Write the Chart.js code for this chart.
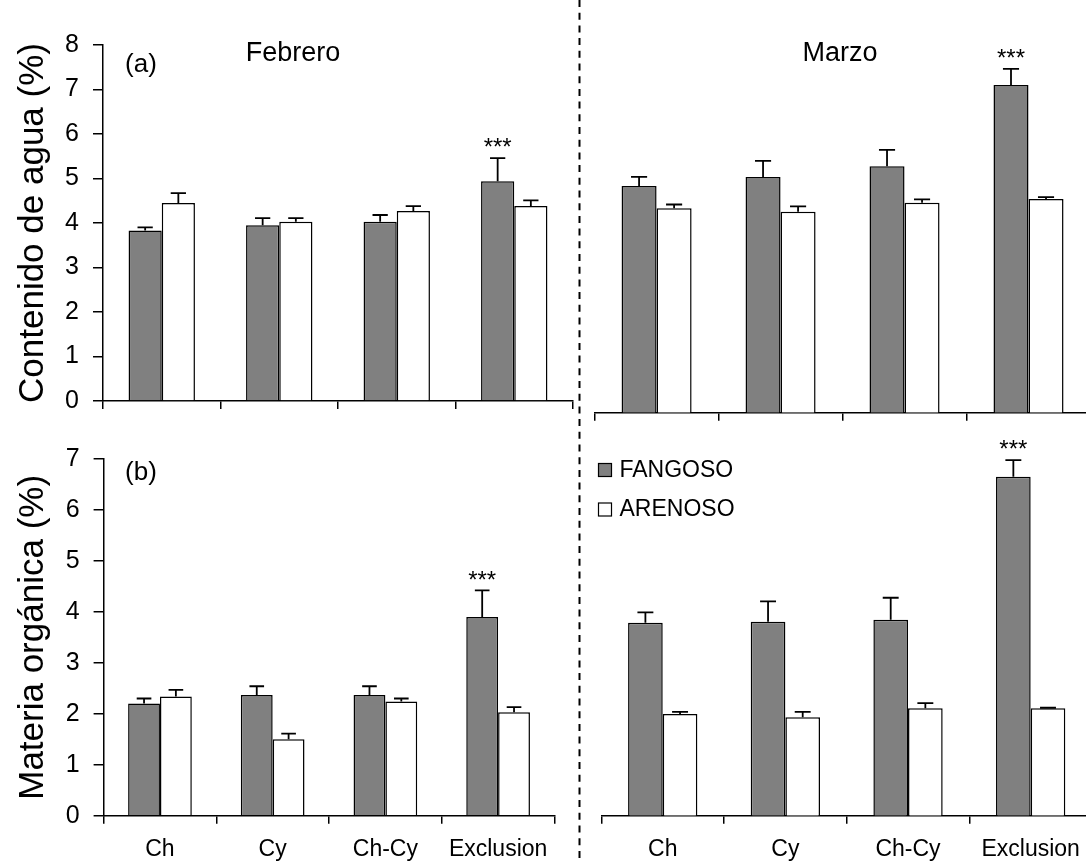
<!DOCTYPE html>
<html>
<head>
<meta charset="utf-8">
<script src="https://cdn.jsdelivr.net/npm/chart.js@4.4.0/dist/chart.umd.min.js"></script>
<style>
  html, body { margin: 0; padding: 0; background: #fff; overflow: hidden; }
  #wrap { position: relative; width: 1086px; height: 862px; overflow: hidden; background: #fff; }
  #wrap canvas { position: absolute; }
  #sep { position: absolute; left: 0; top: 0; pointer-events: none; }
</style>
</head>
<body>
<div id="wrap">
  <canvas id="aguaFeb"></canvas>
  <canvas id="aguaMar"></canvas>
  <canvas id="moFeb"></canvas>
  <canvas id="moMar"></canvas>
  <svg id="sep" width="1086" height="862">
    <line x1="579.5" y1="0" x2="579.5" y2="862" stroke="#000" stroke-width="2" stroke-dasharray="7 5.7"/>
  </svg>
</div>
<script>
// Treatments and sediment types
const categories = ['Ch', 'Cy', 'Ch-Cy', 'Exclusion'];
const seriesNames = ['FANGOSO', 'ARENOSO'];
const seriesColors = ['#808080', '#ffffff'];

// Water content (%) - February
const aguaFebFangoso   = [3.83, 3.95, 4.03, 4.94];
const aguaFebFangosoSE = [0.07, 0.16, 0.15, 0.52];
const aguaFebArenoso   = [4.45, 4.03, 4.27, 4.38];
const aguaFebArenosoSE = [0.22, 0.08, 0.11, 0.13];
const aguaFebSig       = ['', '', '', '***'];

// Water content (%) - March
const aguaMarFangoso   = [4.93, 5.13, 5.36, 7.13];
const aguaMarFangosoSE = [0.20, 0.35, 0.36, 0.35];
const aguaMarArenoso   = [4.45, 4.37, 4.57, 4.65];
const aguaMarArenosoSE = [0.08, 0.12, 0.07, 0.04];
const aguaMarSig       = ['', '', '', '***'];

// Organic matter (%) - February
const moFebFangoso   = [2.20, 2.37, 2.37, 3.90];
const moFebFangosoSE = [0.10, 0.17, 0.17, 0.52];
const moFebArenoso   = [2.34, 1.50, 2.24, 2.03];
const moFebArenosoSE = [0.13, 0.11, 0.06, 0.10];
const moFebSig       = ['', '', '', '***'];

// Organic matter (%) - March
const moMarFangoso   = [3.70, 3.72, 3.76, 6.50];
const moMarFangosoSE = [0.20, 0.39, 0.42, 0.32];
const moMarArenoso   = [1.95, 1.89, 2.06, 2.06];
const moMarArenosoSE = [0.04, 0.10, 0.10, 0.01];
const moMarSig       = ['', '', '', '***'];

// Y tick values
const aguaTicks = [0, 1, 2, 3, 4, 5, 6, 7, 8];
const moTicks   = [0, 1, 2, 3, 4, 5, 6, 7];

const FONT = "'Liberation Sans', Arial, Helvetica, sans-serif";
Chart.defaults.font.family = FONT;
Chart.defaults.color = '#000';

// Upward error bars with caps, plus significance stars above them
const errorBars = {
  id: 'errorBars',
  afterDatasetsDraw(chart) {
    const ctx = chart.ctx;
    const y = chart.scales.y;
    chart.data.datasets.forEach((ds, i) => {
      const meta = chart.getDatasetMeta(i);
      meta.data.forEach((bar, j) => {
        const top = y.getPixelForValue(ds.data[j] + ds.se[j]);
        const half = bar.width * 0.23;
        ctx.save();
        ctx.strokeStyle = '#000';
        ctx.lineWidth = 1.8;
        ctx.beginPath();
        ctx.moveTo(bar.x, bar.y);
        ctx.lineTo(bar.x, top);
        ctx.moveTo(bar.x - half, top);
        ctx.lineTo(bar.x + half, top);
        ctx.stroke();
        if (ds.sig && ds.sig[j]) {
          ctx.fillStyle = '#000';
          ctx.font = '24px ' + FONT;
          ctx.textAlign = 'center';
          ctx.textBaseline = 'middle';
          ctx.fillText(ds.sig[j], bar.x, top - 9.5);
        }
        ctx.restore();
      });
    });
  }
};

// Free text (panel letters, month headings) and the legend box
const panelText = {
  id: 'panelText',
  afterDraw(chart, args, opts) {
    const ctx = chart.ctx;
    const ox = opts.originX || 0, oy = opts.originY || 0;
    ctx.save();
    ctx.fillStyle = '#000';
    ctx.textBaseline = 'middle';
    (opts.items || []).forEach(it => {
      ctx.font = it.size + 'px ' + FONT;
      ctx.textAlign = it.align || 'center';
      ctx.fillText(it.text, it.x - ox, it.y - oy);
    });
    if (opts.legend) {
      const L = opts.legend;
      chart.data.datasets.forEach((ds, i) => {
        const sx = L.x - ox, sy = L.y - oy + i * L.gap;
        ctx.fillStyle = ds.backgroundColor;
        ctx.fillRect(sx, sy, L.box, L.box);
        ctx.strokeStyle = '#000';
        ctx.lineWidth = 1.2;
        ctx.strokeRect(sx, sy, L.box, L.box);
        ctx.fillStyle = '#000';
        ctx.font = L.size + 'px ' + FONT;
        ctx.textAlign = 'left';
        ctx.fillText(ds.label, sx + L.box + 8, sy + L.box / 2 + 0.5);
      });
    }
    ctx.restore();
  }
};

function makePanel(id, box, area, spec) {
  const canvas = document.getElementById(id);
  canvas.width = box.w;
  canvas.height = box.h;
  canvas.style.left = box.x + 'px';
  canvas.style.top = box.y + 'px';
  canvas.style.width = box.w + 'px';
  canvas.style.height = box.h + 'px';

  const yWidth = area.left - box.x;
  const xHeight = box.y + box.h - area.bottom;
  const tickVals = spec.ticks;

  const datasets = spec.series.map((s, i) => ({
    label: seriesNames[i],
    data: s.values,
    se: s.se,
    sig: s.sig,
    backgroundColor: seriesColors[i],
    borderColor: '#000',
    borderWidth: 1.5,
    categoryPercentage: 0.565,
    barPercentage: 1.0
  }));

  return new Chart(canvas, {
    type: 'bar',
    data: { labels: categories, datasets },
    plugins: [errorBars, panelText],
    options: {
      responsive: false,
      animation: false,
      devicePixelRatio: 1,
      events: [],
      layout: {
        padding: {
          left: spec.showY ? 0 : yWidth,
          right: box.x + box.w - area.right,
          top: area.top - box.y,
          bottom: 0
        }
      },
      plugins: {
        legend: { display: false },
        tooltip: { enabled: false },
        title: { display: false },
        panelText: Object.assign({ originX: box.x, originY: box.y }, spec.text)
      },
      scales: {
        x: {
          type: 'category',
          offset: true,
          grid: {
            offset: true,
            drawOnChartArea: false,
            drawTicks: true,
            tickLength: 8,
            color: '#000',
            lineWidth: 1.5
          },
          border: { display: true, color: '#000', width: 1.5 },
          ticks: {
            display: spec.showX,
            font: { size: 23 },
            color: '#000',
            padding: 12,
            maxRotation: 0,
            autoSkip: false
          },
          afterFit(s) { s.height = xHeight; }
        },
        y: {
          display: spec.showY,
          min: tickVals[0],
          max: tickVals[tickVals.length - 1],
          afterBuildTicks(s) { s.ticks = tickVals.map(v => ({ value: v })); },
          grid: {
            drawOnChartArea: false,
            drawTicks: true,
            tickLength: 10,
            color: '#000',
            lineWidth: 1.5
          },
          border: { display: true, color: '#000', width: 1.5 },
          ticks: {
            font: { size: 25 },
            color: '#000',
            padding: 14
          },
          title: {
            display: !!spec.yTitle,
            text: spec.yTitle || '',
            font: { size: 35 },
            color: '#000',
            padding: { top: 12, bottom: 0 }
          },
          afterFit(s) { s.width = yWidth; }
        }
      }
    }
  });
}

makePanel('aguaFeb',
  { x: 0, y: 0, w: 578, h: 430 },
  { left: 103, right: 573, top: 45, bottom: 409.3 },
  {
    showX: false, showY: true, ticks: aguaTicks,
    yTitle: 'Contenido de agua (%)',
    series: [
      { values: aguaFebFangoso, se: aguaFebFangosoSE, sig: aguaFebSig },
      { values: aguaFebArenoso, se: aguaFebArenosoSE }
    ],
    text: { items: [
      { text: '(a)', x: 141, y: 65, size: 26 },
      { text: 'Febrero', x: 293, y: 54, size: 27 }
    ] }
  });

makePanel('aguaMar',
  { x: 581, y: 0, w: 519, h: 430 },
  { left: 587.8, right: 1090.5, top: 45, bottom: 412.7 },
  {
    showX: false, showY: false, ticks: aguaTicks,
    series: [
      { values: aguaMarFangoso, se: aguaMarFangosoSE, sig: aguaMarSig },
      { values: aguaMarArenoso, se: aguaMarArenosoSE }
    ],
    text: { items: [
      { text: 'Marzo', x: 840, y: 54, size: 27 }
    ] }
  });

makePanel('moFeb',
  { x: 0, y: 430, w: 560, h: 432 },
  { left: 103.6, right: 554.6, top: 450.7, bottom: 815.7 },
  {
    showX: true, showY: true, ticks: moTicks,
    yTitle: 'Materia orgánica (%)',
    series: [
      { values: moFebFangoso, se: moFebFangosoSE, sig: moFebSig },
      { values: moFebArenoso, se: moFebArenosoSE }
    ],
    text: { items: [
      { text: '(b)', x: 141, y: 473, size: 26 }
    ] }
  });

makePanel('moMar',
  { x: 581, y: 430, w: 519, h: 432 },
  { left: 591.2, right: 1092, top: 450.7, bottom: 815.7 },
  {
    showX: true, showY: false, ticks: moTicks,
    series: [
      { values: moMarFangoso, se: moMarFangosoSE, sig: moMarSig },
      { values: moMarArenoso, se: moMarArenosoSE }
    ],
    text: {
      items: [],
      legend: { x: 598.5, y: 463.5, box: 13, gap: 39.5, size: 23 }
    }
  });
</script>
</body>
</html>
